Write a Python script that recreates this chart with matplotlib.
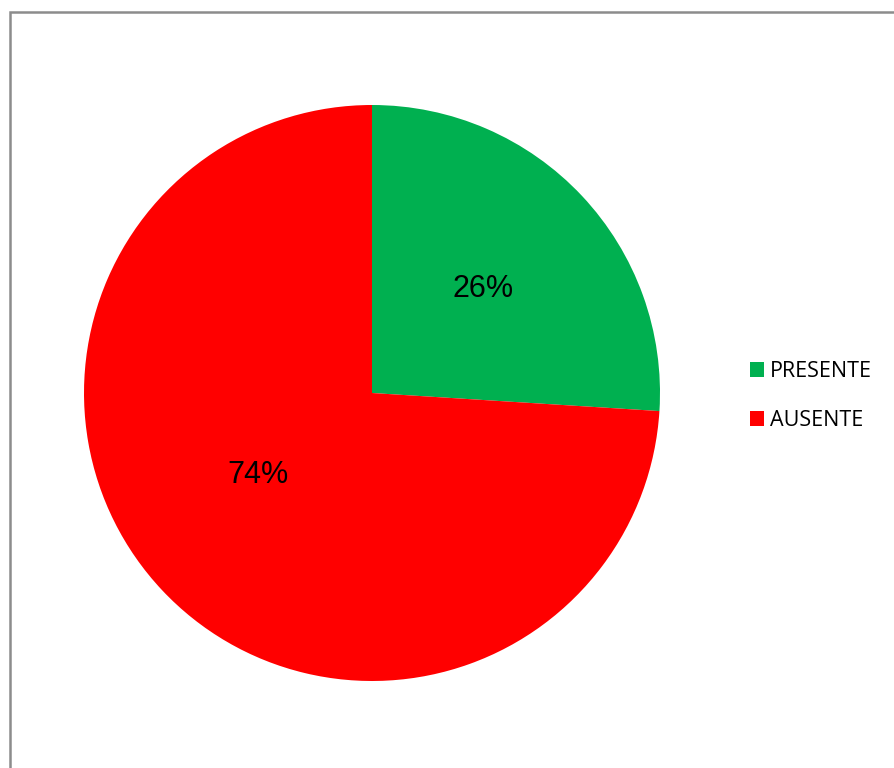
import matplotlib.pyplot as plt
from matplotlib.patches import Patch, Rectangle

# ── Data ─────────────────────────────────────────────────────────────────────
LABELS = ["PRESENTE", "AUSENTE"]
VALUES = [26, 74]
COLORS = ["#00B050", "#FF0000"]

W, H = 894, 768
fig = plt.figure(figsize=(W / 100, H / 100), dpi=100)

# chart frame (cut off at the right and bottom edges)
fig.patches.append(Rectangle((9.5 / W, -0.05), 1.1, 1 - 11.5 / H + 0.05,
                             transform=fig.transFigure, fill=False,
                             edgecolor="#8c8c8c", linewidth=1.8))

# ── Pie ──────────────────────────────────────────────────────────────────────
cx, cy, r = 372, 393, 288
ax = fig.add_axes([(cx - r) / W, (H - cy - r) / H, 2 * r / W, 2 * r / H])
wedges, texts, autotexts = ax.pie(VALUES, colors=COLORS, startangle=90,
                                  counterclock=False, radius=1,
                                  autopct="%1.0f%%", pctdistance=0.53,
                                  textprops=dict(fontsize=22, family="Liberation Sans"))
# Excel puts the big slice's label a bit off the bisector
autotexts[1].set_position((-0.395, -0.285))
ax.set_xlim(-1, 1)
ax.set_ylim(-1, 1)
ax.set_aspect("equal")
ax.axis("off")

# ── Legend ───────────────────────────────────────────────────────────────────
handles = [Patch(facecolor=c, edgecolor="none") for c in COLORS]
fig.legend(handles, LABELS, loc="center left",
           bbox_to_anchor=(735 / W, (H - 396) / H), frameon=False,
           handlelength=0.64, handleheight=0.64, handletextpad=0.3,
           labelspacing=1.3, borderpad=0.2,
           prop=dict(family="Open Sans", size=15.5))

fig.savefig("out.png", dpi=100)
